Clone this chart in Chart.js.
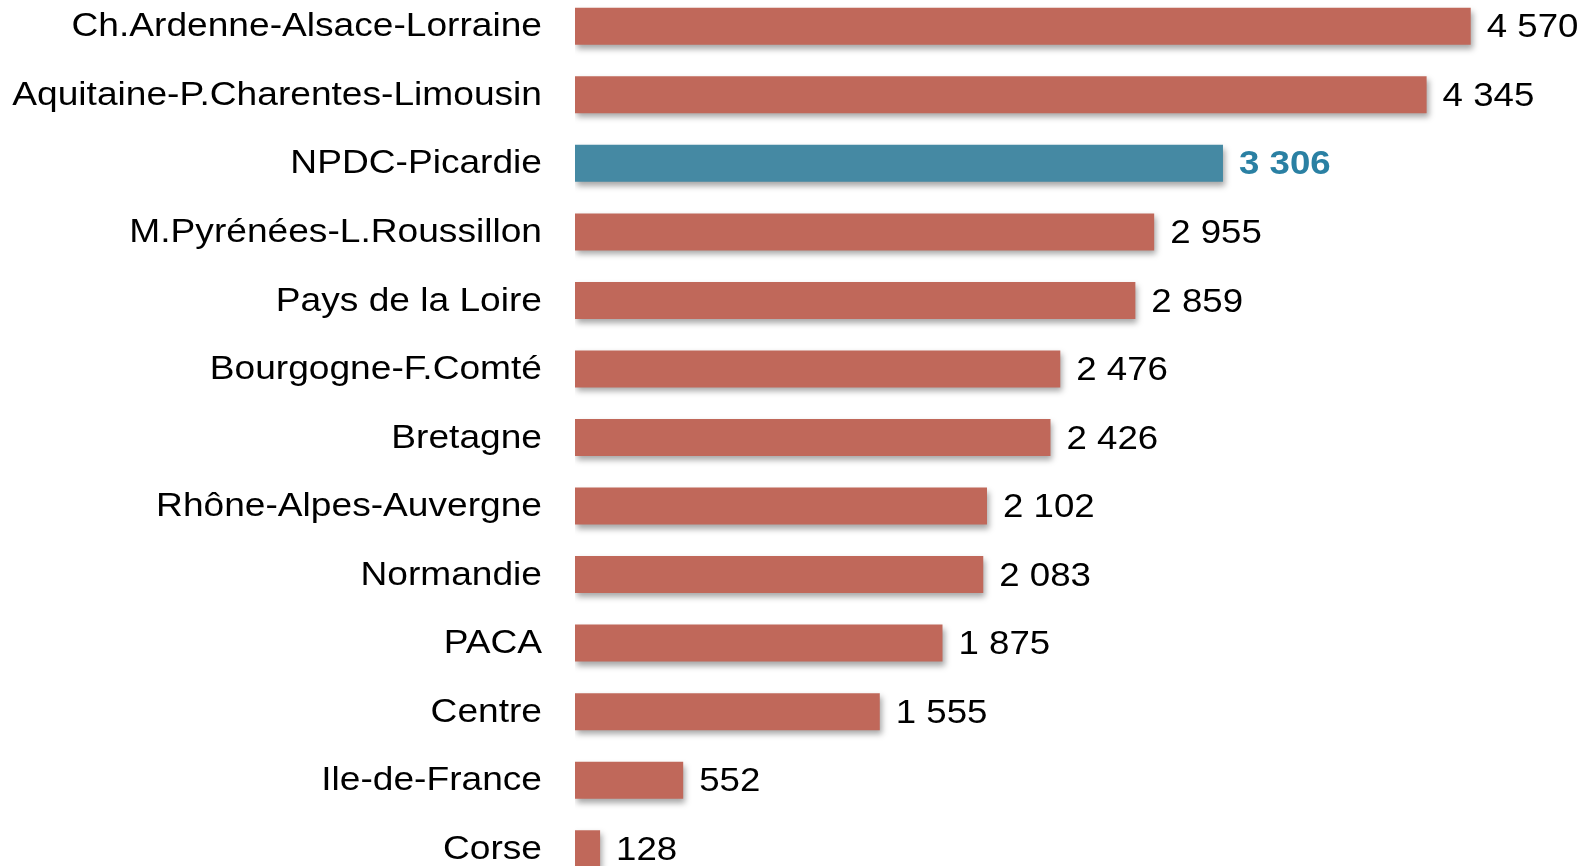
<!DOCTYPE html>
<html lang="fr">
<head>
    <meta charset="UTF-8">
    <title>Regions</title>
    <script src="https://cdn.jsdelivr.net/npm/chart.js@4.4.1/dist/chart.umd.min.js"></script>
    <style>
        html, body { margin: 0; padding: 0; background: #fff; overflow: hidden; }
        .wrap { position: absolute; left: 0; top: -8px; width: 1591px; height: 891px; }
    </style>
</head>
<body>
<div class="wrap"><canvas id="barChart"></canvas></div>
<script>
var regions = ["Ch.Ardenne-Alsace-Lorraine", "Aquitaine-P.Charentes-Limousin", "NPDC-Picardie",
    "M.Pyrénées-L.Roussillon", "Pays de la Loire", "Bourgogne-F.Comté", "Bretagne",
    "Rhône-Alpes-Auvergne", "Normandie", "PACA", "Centre", "Ile-de-France", "Corse"];
var values = [4570, 4345, 3306, 2955, 2859, 2476, 2426, 2102, 2083, 1875, 1555, 552, 128];
var highlight = "NPDC-Picardie";

var red = '#c0685a';
var blue = '#4589a3';
var colors = regions.map(function (r) { return r == highlight ? blue : red; });
var FONT = '"Liberation Sans", Arial, sans-serif';

function fmt(v) {
    return String(v).replace(/\B(?=(\d{3})+(?!\d))/g, ' ');
}

// the original text is a bit wider than Arial
function wideText(c, txt, x, y, sx) {
    c.save();
    c.translate(x, y);
    c.scale(sx, 1);
    c.fillText(txt, 0, 0);
    c.restore();
}

var shadowPlugin = {
    id: 'shadow',
    beforeDatasetDraw: function (chart) {
        var c = chart.ctx;
        c.save();
        c.shadowColor = 'rgba(0,0,0,0.35)';
        c.shadowBlur = 6;
        c.shadowOffsetX = 2;
        c.shadowOffsetY = 4;
    },
    afterDatasetDraw: function (chart) {
        chart.ctx.restore();
    }
};

// category names and values, drawn on the canvas
var textPlugin = {
    id: 'texts',
    afterDatasetsDraw: function (chart) {
        var c = chart.ctx;
        var meta = chart.getDatasetMeta(0);
        var yScale = chart.scales.y;
        c.save();
        c.textBaseline = 'middle';
        meta.data.forEach(function (bar, i) {
            var hl = regions[i] == highlight;
            c.textAlign = 'right';
            c.fillStyle = '#000';
            c.font = '33px ' + FONT;
            wideText(c, regions[i], yScale.right - 33, bar.y + 1, 1.125);
            c.textAlign = 'left';
            c.font = (hl ? 'bold ' : '') + '33px ' + FONT;
            c.fillStyle = hl ? '#2a80a3' : '#000';
            wideText(c, fmt(values[i]), bar.x + 16, bar.y + 2, 1.11);
        });
        c.restore();
    }
};

var ctx = document.getElementById("barChart").getContext("2d");
var chart = new Chart(ctx, {
    type: 'bar',
    data: {
        labels: regions,
        datasets: [{
            data: values,
            backgroundColor: colors,
            borderWidth: 0,
            categoryPercentage: 1,
            barPercentage: 0.54
        }]
    },
    options: {
        indexAxis: 'y',
        responsive: true,
        maintainAspectRatio: false,
        animation: false,
        layout: { padding: { left: 0, right: 36, top: 0, bottom: 0 } },
        plugins: {
            legend: { display: false },
            tooltip: { enabled: false }
        },
        scales: {
            x: {
                min: 0,
                max: 5000,
                display: false
            },
            y: {
                grid: { display: false, drawTicks: false },
                border: { display: false },
                ticks: { display: false },
                afterFit: function (axis) {
                    axis.width = 575;
                    axis.paddingTop = 0;
                    axis.paddingBottom = 0;
                }
            }
        }
    },
    plugins: [shadowPlugin, textPlugin]
});
</script>
</body>
</html>
